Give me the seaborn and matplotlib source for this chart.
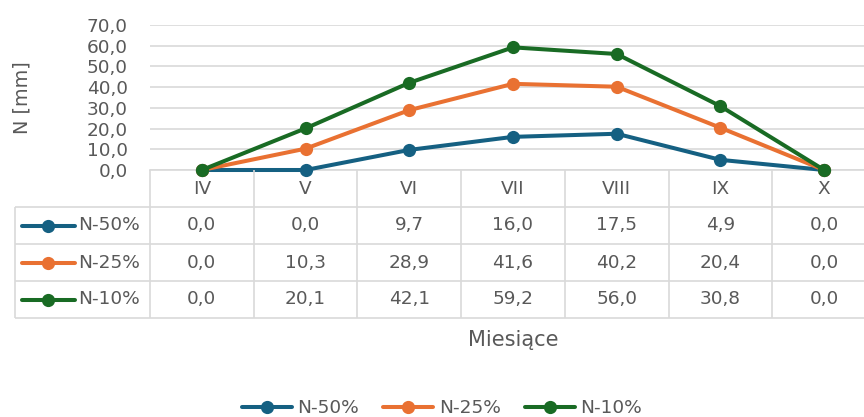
import numpy as np
import pandas as pd
import matplotlib
matplotlib.use("Agg")
import matplotlib.pyplot as plt
from matplotlib.lines import Line2D
import seaborn as sns

months = ["IV", "V", "VI", "VII", "VIII", "IX", "X"]
series_names = ["N-50%", "N-25%", "N-10%"]
n50 = [0.0, 0.0, 9.7, 16.0, 17.5, 4.9, 0.0]
n25 = [0.0, 10.3, 28.9, 41.6, 40.2, 20.4, 0.0]
n10 = [0.0, 20.1, 42.1, 59.2, 56.0, 30.8, 0.0]
y_ticks = [0, 10, 20, 30, 40, 50, 60, 70]
y_label = "N [mm]"
x_label = "Miesiące"

colors = ["#156082", "#E97132", "#196B24"]
grid_c = "#d9d9d9"
text_c = "#595959"
FS = 13.3

sns.set_theme(style="white")
plt.rcParams["font.family"] = ["DejaVu Sans"]

rows = []
for name, vals in zip(series_names, [n50, n25, n10]):
    for i, (m, v) in enumerate(zip(months, vals)):
        rows.append({"pos": i, "month": m, "series": name, "value": v})
df = pd.DataFrame(rows)

W, H = 864, 417
fig = plt.figure(figsize=(W / 100, H / 100), dpi=100)
fig.patch.set_facecolor("white")

# layout in pixels
plot_l, plot_r, plot_t, plot_b = 150, 876, 25, 170
tab_l, tab_b = 15, 318
colw = (plot_r - plot_l) / len(months)

ax = fig.add_axes([plot_l / W, 1 - plot_b / H, (plot_r - plot_l) / W, (plot_b - plot_t) / H])
sns.lineplot(data=df, x="pos", y="value", hue="series", hue_order=series_names,
             palette=colors, marker="o", markersize=9.5, markeredgewidth=0,
             linewidth=2.9, ax=ax, legend=False, zorder=3)
for ln in ax.lines:
    ln.set_clip_on(False)
ax.set_xlim(-0.5, len(months) - 0.5)
ax.set_ylim(y_ticks[0], y_ticks[-1])
ax.set_yticks(y_ticks)
ax.set_yticklabels([f"{t:.1f}".replace(".", ",") for t in y_ticks])
ax.set_xticks(range(len(months)))
ax.set_xticklabels([])
ax.tick_params(axis="both", length=0)
ax.tick_params(axis="y", pad=16, labelsize=FS, labelcolor=text_c)
ax.set_xlabel("")
ax.set_ylabel("")
ax.yaxis.grid(True, color=grid_c, linewidth=1.2)
ax.set_axisbelow(True)
for s in ["top", "right", "left"]:
    ax.spines[s].set_visible(False)
ax.spines["bottom"].set_color(grid_c)
ax.spines["bottom"].set_linewidth(1.2)
ax.set_facecolor("none")

# data table
tax = fig.add_axes([tab_l / W, 1 - tab_b / H, (plot_r - tab_l) / W, (tab_b - plot_b) / H])
xL = -0.5 - (plot_l - tab_l) / colw
tax.set_xlim(xL, len(months) - 0.5)
tax.set_ylim(len(series_names) + 1, 0)
tax.axis("off")
nrow = len(series_names) + 1
tax.hlines(range(1, nrow + 1), xL, len(months) - 0.5, color=grid_c, linewidth=1.2, clip_on=False)
tax.vlines([k - 0.5 for k in range(len(months) + 1)], 0, nrow, color=grid_c, linewidth=1.2, clip_on=False)
tax.vlines([xL], 1, nrow, color=grid_c, linewidth=1.2, clip_on=False)
for i, m in enumerate(months):
    tax.text(i, 0.5, m, ha="center", va="center", fontsize=FS, color=text_c)
for r, (name, vals, c) in enumerate(zip(series_names, [n50, n25, n10], colors)):
    yc = r + 1.5
    for i, v in enumerate(vals):
        tax.text(i, yc, f"{v:.1f}".replace(".", ","), ha="center", va="center",
                 fontsize=FS, color=text_c)
    tax.plot([xL + 7 / colw, xL + 60 / colw], [yc, yc], color=c, linewidth=2.9,
             solid_capstyle="round", clip_on=False)
    tax.plot([xL + 33 / colw], [yc], marker="o", markersize=9.5, color=c,
             markeredgewidth=0, clip_on=False)
    tax.text(xL + 63 / colw, yc, name, ha="left", va="center", fontsize=FS, color=text_c)

fig.text(22 / W, 1 - 98 / H, y_label, rotation=90, ha="center", va="center",
         fontsize=13.9, color=text_c)
fig.text(513 / W, 1 - 340 / H, x_label, ha="center", va="center",
         fontsize=15, color=text_c)

handles = [Line2D([0], [0], color=c, linewidth=2.9, marker="o", markersize=9.5,
                  markeredgewidth=0, solid_capstyle="round") for c in colors]
leg = fig.legend(handles, series_names, loc="center", bbox_to_anchor=(442 / W, 1 - 408 / H),
                 ncol=3, frameon=False, fontsize=FS, handlelength=2.7,
                 handletextpad=0.3, columnspacing=1.3, borderaxespad=0, borderpad=0)
for t in leg.get_texts():
    t.set_color(text_c)

fig.savefig("out.png", dpi=100, facecolor="white")
